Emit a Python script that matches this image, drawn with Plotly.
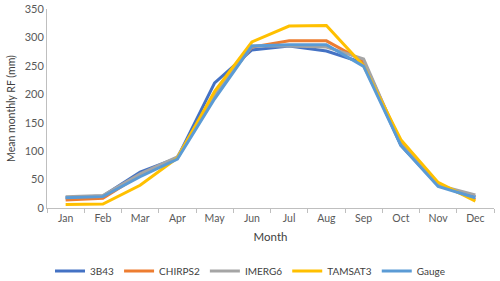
import plotly.graph_objects as go

months = ["Jan","Feb","Mar","Apr","May","Jun","Jul","Aug","Sep","Oct","Nov","Dec"]
b3b43   = [18, 21, 63, 88, 220, 278, 285, 276, 255, 110, 40, 20]
chirps2 = [14, 17, 58, 88, 200, 283, 294, 294, 258, 115, 42, 15]
imerg6  = [20, 22, 60, 90, 200, 285, 285, 283, 262, 112, 40, 23]
tamsat3 = [6, 7, 40, 88, 205, 292, 320, 321, 250, 120, 45, 12]
gauge   = [18, 20, 55, 86, 192, 285, 287, 287, 249, 110, 38, 18]

series = [("3B43", b3b43, "#4472C4"), ("CHIRPS2", chirps2, "#ED7D31"),
          ("IMERG6", imerg6, "#A5A5A5"), ("TAMSAT3", tamsat3, "#FFC000"),
          ("Gauge", gauge, "#5B9BD5")]

fig = go.Figure()
for name, vals, col in series:
    fig.add_trace(go.Scatter(x=months, y=vals, name=name, mode="lines",
                             line=dict(color=col, width=3)))

fig.update_layout(
    width=500, height=281,
    margin=dict(l=47, r=6, t=9, b=73, autoexpand=False),
    paper_bgcolor="white", plot_bgcolor="white",
    font=dict(family="Lato, Open Sans, sans-serif", size=10, color="#595959"),
    showlegend=True,
    legend=dict(orientation="h", x=0.5, xanchor="center", xref="container",
                y=10 / 281, yanchor="middle", yref="container",
                font=dict(size=10, color="#404040"), itemwidth=30, entrywidth=0),
)
fig.update_xaxes(type="category", range=[-0.5, 11.5], showline=True, linecolor="#BFBFBF", linewidth=1,
                 ticks="outside", tickson="boundaries", ticklen=4, tickcolor="#BFBFBF",
                 showgrid=False, tickfont=dict(size=10.5, color="#595959"), automargin=False,
                 title=dict(text="Month", font=dict(size=11.5, color="#404040"), standoff=10))
fig.update_yaxes(range=[0, 350], dtick=50, showline=True, linecolor="#BFBFBF", linewidth=1,
                 ticks="", showgrid=False, zeroline=False, automargin=False,
                 tickfont=dict(size=11, color="#595959"),
                 title=dict(text="Mean monthly RF (mm)", font=dict(size=10.5, color="#404040"), standoff=6))

fig.write_html("out.html", config={"displayModeBar": False},
               post_script="document.body.style.margin='0';")
